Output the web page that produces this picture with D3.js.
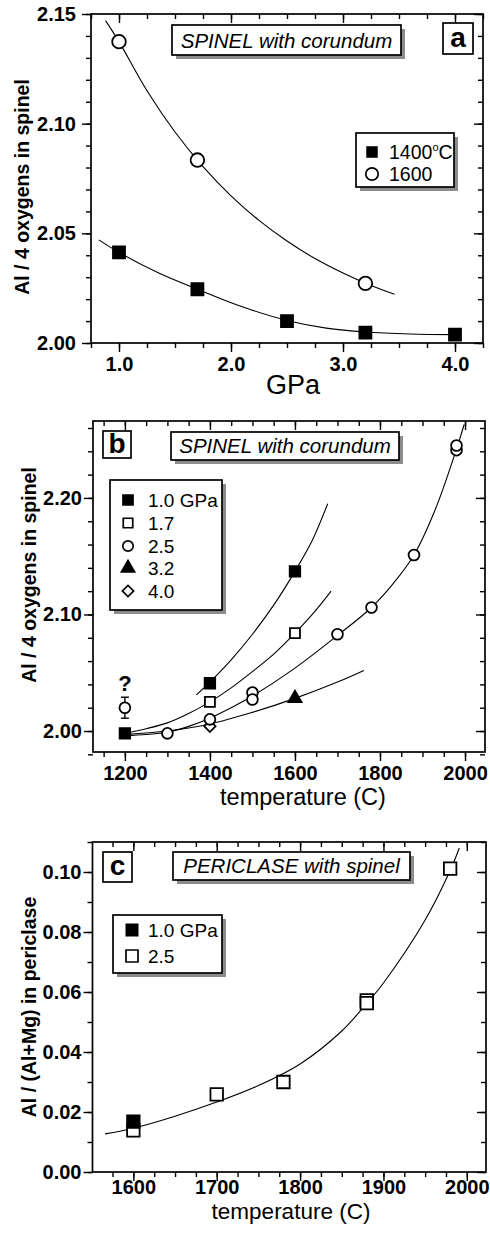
<!DOCTYPE html>
<html>
<head>
<meta charset="utf-8">
<script src="https://cdn.jsdelivr.net/npm/d3@7"></script>
<style>
  body { margin: 0; background: #fff; }
  svg { display: block; }
</style>
</head>
<body>
<svg id="fig" width="490" height="1234"></svg>
<script>
// ---------- Panel a: Al / 4 oxygens in spinel vs pressure ----------
const pressureTicks = [1.0, 2.0, 3.0, 4.0];
const spinelTicksA = [2.00, 2.05, 2.10, 2.15];

const p1400 = [1.0, 1.7, 2.5, 3.2, 4.0];
const al1400 = [2.0413, 2.0245, 2.0100, 2.0047, 2.0038];
const p1600 = [1.0, 1.7, 3.2];
const al1600 = [2.1374, 2.0834, 2.0272];

const fit1400P = [0.82, 1.0, 1.35, 1.7, 2.1, 2.5, 2.85, 3.2, 3.6, 4.0];
const fit1400A = [2.0470, 2.0413, 2.0320, 2.0245, 2.0165, 2.0103, 2.0068, 2.0050, 2.0041, 2.0038];
const fit1600P = [0.88, 1.0, 1.25, 1.5, 1.75, 2.0, 2.25, 2.5, 2.75, 3.0, 3.25, 3.46];
const fit1600A = [2.1470, 2.1374, 2.1150, 2.0962, 2.0804, 2.0671, 2.0559, 2.0465, 2.0385, 2.0319, 2.0262, 2.0222];

// ---------- Panel b: Al / 4 oxygens in spinel vs temperature ----------
const tempTicksB = [1200, 1400, 1600, 1800, 2000];
const spinelTicksB = [2.00, 2.10, 2.20];

const t10 = [1200, 1400, 1600];
const a10 = [1.998, 2.041, 2.137];
const t17 = [1400, 1600];
const a17 = [2.025, 2.084];
const t25 = [1300, 1400, 1500, 1500, 1700, 1780, 1880, 1980, 1980];
const a25 = [1.998, 2.010, 2.033, 2.027, 2.083, 2.106, 2.151, 2.241, 2.245];
const t25q = [1200];
const a25q = [2.020];
const e25q = [0.009];
const t32 = [1600];
const a32 = [2.028];
const t40 = [1400];
const a40 = [2.004];

const fit10T = [1368, 1400, 1450, 1500, 1550, 1600, 1640, 1677];
const fit10A = [2.031, 2.042, 2.061, 2.083, 2.108, 2.137, 2.163, 2.195];
const fit17T = [1200, 1250, 1300, 1350, 1400, 1450, 1500, 1550, 1600, 1650, 1685];
const fit17A = [1.998, 2.002, 2.007, 2.015, 2.025, 2.037, 2.051, 2.066, 2.084, 2.104, 2.120];
const fit25T = [1200, 1250, 1300, 1350, 1400, 1450, 1500, 1600, 1700, 1780, 1830, 1880, 1930, 1980, 1998];
const fit25A = [1.996, 1.997, 1.999, 2.004, 2.011, 2.020, 2.030, 2.054, 2.082, 2.106, 2.126, 2.151, 2.190, 2.242, 2.263];
const fit32T = [1200, 1300, 1400, 1500, 1600, 1700, 1762];
const fit32A = [1.997, 2.000, 2.006, 2.016, 2.028, 2.042, 2.052];

// ---------- Panel c: Al / (Al+Mg) in periclase vs temperature ----------
const tempTicksC = [1600, 1700, 1800, 1900, 2000];
const periTicksC = [0.00, 0.02, 0.04, 0.06, 0.08, 0.10];

const tc10 = [1600];
const pc10 = [0.0168];
const tc25 = [1600, 1700, 1780, 1880, 1880, 1980];
const pc25 = [0.0139, 0.0259, 0.0300, 0.0572, 0.0563, 0.1011];

const fitCT = [1566, 1600, 1650, 1700, 1750, 1800, 1850, 1880, 1900, 1950, 1980, 1991];
const fitCA = [0.0127, 0.0146, 0.0186, 0.0233, 0.0288, 0.0360, 0.0470, 0.0562, 0.0630, 0.0840, 0.1005, 0.1080];

// ---------- drawing helpers ----------
const FONT = '"Liberation Sans", Arial, Helvetica, sans-serif';
const TICK_FONT = 20;
const svg = d3.select('#fig');

function addAxis(g, ax, tx, ty, fontSize) {
  const a = g.append('g')
    .attr('transform', `translate(${tx},${ty})`)
    .call(ax.tickSizeOuter(0));
  a.select('.domain').remove();
  a.selectAll('line').attr('stroke', '#000').attr('stroke-width', 1.4);
  a.attr('font-family', FONT).attr('font-size', fontSize || 10).attr('font-weight', 'bold');
  a.selectAll('text').attr('fill', '#000');
  return a;
}

function panel(cfg) {
  const g = svg.append('g');
  const x = d3.scaleLinear().domain(cfg.xDomain).range(cfg.xRange);
  const y = d3.scaleLinear().domain(cfg.yDomain).range(cfg.yRange);
  const [xl, xr] = cfg.xRange;
  const [yb, yt] = cfg.yRange;
  const none = () => '';

  // minor ticks on all four sides
  addAxis(g, d3.axisBottom(x).tickValues(cfg.xMinor).tickSize(5).tickFormat(none), 0, yb);
  addAxis(g, d3.axisTop(x).tickValues(cfg.xMinor).tickSize(-5).tickFormat(none), 0, yt);
  addAxis(g, d3.axisLeft(y).tickValues(cfg.yMinor).tickSize(5).tickFormat(none), xl, 0);
  addAxis(g, d3.axisRight(y).tickValues(cfg.yMinor).tickSize(-5).tickFormat(none), xr, 0);
  // major ticks with labels on bottom / left
  addAxis(g, d3.axisBottom(x).tickValues(cfg.xMajor).tickSize(9).tickPadding(cfg.xPad).tickFormat(cfg.xFmt), 0, yb, TICK_FONT);
  addAxis(g, d3.axisTop(x).tickValues(cfg.xMajor).tickSize(-9).tickFormat(none), 0, yt);
  addAxis(g, d3.axisLeft(y).tickValues(cfg.yMajor).tickSize(9).tickPadding(cfg.yPad).tickFormat(cfg.yFmt), xl, 0, TICK_FONT);
  addAxis(g, d3.axisRight(y).tickValues(cfg.yMajor).tickSize(-9).tickFormat(none), xr, 0);

  g.append('rect')
    .attr('x', xl).attr('y', yt)
    .attr('width', xr - xl).attr('height', yb - yt)
    .attr('fill', 'none').attr('stroke', '#000').attr('stroke-width', 1.7);

  // axis titles
  g.append('text')
    .attr('transform', `translate(${cfg.yTitlePos[0]},${cfg.yTitlePos[1]}) rotate(-90)`)
    .attr('text-anchor', 'middle')
    .attr('font-family', FONT).attr('font-size', 19.5).attr('font-weight', 'bold')
    .text(cfg.yTitle);
  g.append('text')
    .attr('x', cfg.xTitlePos[0]).attr('y', cfg.xTitlePos[1])
    .attr('text-anchor', 'middle')
    .attr('font-family', FONT).attr('font-size', cfg.xTitleSize)
    .text(cfg.xTitle);
  return { g, x, y };
}

function fitLine(p, xs, ys) {
  const pts = xs.map((v, i) => [v, ys[i]]);
  p.g.append('path')
    .datum(pts)
    .attr('fill', 'none').attr('stroke', '#000').attr('stroke-width', 1.1)
    .attr('d', d3.line().x(d => p.x(d[0])).y(d => p.y(d[1])).curve(d3.curveCatmullRom.alpha(0.5)));
}

function marks(p, xs, ys, type, size, filled, rot) {
  const pts = xs.map((v, i) => [v, ys[i]]);
  p.g.append('g').selectAll('path').data(pts).join('path')
    .attr('transform', d => `translate(${p.x(d[0])},${p.y(d[1])}) rotate(${rot || 0})`)
    .attr('d', d3.symbol().type(type).size(size))
    .attr('fill', filled ? '#000' : '#fff')
    .attr('stroke', '#000').attr('stroke-width', 1.8);
}

function box(g, x, y, w, h, shadow) {
  if (shadow) {
    g.append('rect').attr('x', x + 4).attr('y', y + 4).attr('width', w).attr('height', h)
      .attr('fill', '#8c8c8c');
  }
  g.append('rect').attr('x', x).attr('y', y).attr('width', w).attr('height', h)
    .attr('fill', '#fff').attr('stroke', '#000').attr('stroke-width', 1.7);
}

function label(g, x, y, txt, size, opts) {
  const t = g.append('text').attr('x', x).attr('y', y)
    .attr('font-family', FONT).attr('font-size', size)
    .attr('text-anchor', (opts && opts.anchor) || 'start');
  if (opts && opts.italic) t.attr('font-style', 'italic');
  if (opts && opts.bold) t.attr('font-weight', 'bold');
  t.text(txt);
  return t;
}

const sq = s => s * s;
const circ = r => Math.PI * r * r;
const f1 = d3.format('.1f'), f2 = d3.format('.2f');

// ---------- panel a ----------
const pa = panel({
  xDomain: [0.75, 4.25], xRange: [91, 483],
  yDomain: [2.00, 2.15], yRange: [343, 14],
  xMajor: pressureTicks, xMinor: d3.range(0.75, 4.26, 0.25), xFmt: f1, xPad: 5,
  yMajor: spinelTicksA, yMinor: d3.range(2.00, 2.1501, 0.01), yFmt: f2, yPad: 6,
  yTitle: 'Al / 4 oxygens in spinel', yTitlePos: [29, 187],
  xTitle: 'GPa', xTitlePos: [293, 394], xTitleSize: 27
});
fitLine(pa, fit1600P, fit1600A);
fitLine(pa, fit1400P, fit1400A);
marks(pa, p1400, al1400, d3.symbolSquare, sq(12), true);
marks(pa, p1600, al1600, d3.symbolCircle, circ(6.8), false);

box(pa.g, 172, 25, 229, 30, true);
label(pa.g, 286.5, 47.5, 'SPINEL with corundum', 20.5, { anchor: 'middle', italic: true });
box(pa.g, 443, 23, 30, 31, false);
label(pa.g, 458, 46.5, 'a', 28, { anchor: 'middle', bold: true });

box(pa.g, 356, 133, 98, 54, true);
pa.g.append('path').attr('transform', 'translate(372,152)')
  .attr('d', d3.symbol().type(d3.symbolSquare).size(sq(11.5))).attr('fill', '#000');
const deg = label(pa.g, 389, 159, '1400', 19.5);
deg.append('tspan').attr('font-size', 11).attr('dy', -8).text('o');
deg.append('tspan').attr('dy', 8).text('C');
pa.g.append('path').attr('transform', 'translate(372,174)')
  .attr('d', d3.symbol().type(d3.symbolCircle).size(circ(6.2))).attr('fill', '#fff')
  .attr('stroke', '#000').attr('stroke-width', 1.7);
label(pa.g, 389, 181, '1600', 19.5);

// ---------- panel b ----------
const pb = panel({
  xDomain: [1125, 2047], xRange: [93, 485],
  yDomain: [1.982, 2.266], yRange: [752, 421],
  xMajor: tempTicksB, xMinor: d3.range(1150, 2047, 50), xFmt: d3.format('d'), xPad: 5,
  yMajor: spinelTicksB, yMinor: d3.range(1.98, 2.2601, 0.02), yFmt: f2, yPad: 2,
  yTitle: 'Al / 4 oxygens in spinel', yTitlePos: [36, 575],
  xTitle: 'temperature (C)', xTitlePos: [303, 805], xTitleSize: 23.5
});
fitLine(pb, fit10T, fit10A);
fitLine(pb, fit17T, fit17A);
fitLine(pb, fit25T, fit25A);
fitLine(pb, fit32T, fit32A);

// questionable 2.5 GPa run at 1200 C with its error bar
t25q.forEach((t, i) => {
  const xx = pb.x(t), lo = pb.y(a25q[i] - e25q[i]), hi = pb.y(a25q[i] + e25q[i]);
  pb.g.append('line').attr('x1', xx).attr('x2', xx).attr('y1', lo).attr('y2', hi)
    .attr('stroke', '#000').attr('stroke-width', 1.4);
  [lo, hi].forEach(yy => pb.g.append('line').attr('x1', xx - 4).attr('x2', xx + 4)
    .attr('y1', yy).attr('y2', yy).attr('stroke', '#000').attr('stroke-width', 1.4));
  label(pb.g, xx, hi - 6, '?', 22, { anchor: 'middle', bold: true });
});
marks(pb, t25q, a25q, d3.symbolCircle, circ(5.4), false);
marks(pb, t40, a40, d3.symbolSquare, sq(8), false, 45);
marks(pb, t25, a25, d3.symbolCircle, circ(5.4), false);
marks(pb, t17, a17, d3.symbolSquare, sq(10), false);
marks(pb, t32, a32, d3.symbolTriangle, 75, true);
marks(pb, t10, a10, d3.symbolSquare, sq(10.5), true);

box(pb.g, 171, 432, 228, 28, true);
label(pb.g, 285, 453, 'SPINEL with corundum', 20.5, { anchor: 'middle', italic: true });
box(pb.g, 103, 431, 28, 27, false);
label(pb.g, 117, 453, 'b', 28, { anchor: 'middle', bold: true });

box(pb.g, 110, 480, 112, 130, true);
const legB = [
  { type: d3.symbolSquare, size: sq(10), fill: true, rot: 0, text: '1.0 GPa' },
  { type: d3.symbolSquare, size: sq(9.5), fill: false, rot: 0, text: '1.7' },
  { type: d3.symbolCircle, size: circ(5.2), fill: false, rot: 0, text: '2.5' },
  { type: d3.symbolTriangle, size: 75, fill: true, rot: 0, text: '3.2' },
  { type: d3.symbolSquare, size: sq(8), fill: false, rot: 45, text: '4.0' }
];
const legBY = [500, 523, 546, 568, 591];
legB.forEach((d, i) => {
  pb.g.append('path').attr('transform', `translate(128,${legBY[i]}) rotate(${d.rot})`)
    .attr('d', d3.symbol().type(d.type).size(d.size))
    .attr('fill', d.fill ? '#000' : '#fff').attr('stroke', '#000').attr('stroke-width', 1.7);
  label(pb.g, 148, legBY[i] + 7, d.text, 19);
});

// ---------- panel c ----------
const pc = panel({
  xDomain: [1551, 2023], xRange: [92.5, 486],
  yDomain: [0, 0.11], yRange: [1172, 842],
  xMajor: tempTicksC, xMinor: d3.range(1575, 2024, 25), xFmt: d3.format('d'), xPad: -1.5,
  yMajor: periTicksC, yMinor: d3.range(0, 0.1101, 0.01), yFmt: f2, yPad: 2,
  yTitle: 'Al / (Al+Mg) in periclase', yTitlePos: [36, 1007],
  xTitle: 'temperature (C)', xTitlePos: [291, 1219], xTitleSize: 22.5
});
fitLine(pc, fitCT, fitCA);
marks(pc, tc25, pc25, d3.symbolSquare, sq(12.5), false);
marks(pc, tc10, pc10, d3.symbolSquare, sq(12.5), true);

box(pc.g, 173, 852, 237, 28, true);
label(pc.g, 291.5, 873, 'PERICLASE with spinel', 20.5, { anchor: 'middle', italic: true });
box(pc.g, 103, 852, 29, 30, false);
label(pc.g, 117.5, 875, 'c', 28, { anchor: 'middle', bold: true });

box(pc.g, 113, 915, 109, 58, true);
pc.g.append('path').attr('transform', 'translate(132,930)')
  .attr('d', d3.symbol().type(d3.symbolSquare).size(sq(13))).attr('fill', '#000');
label(pc.g, 148, 937, '1.0 GPa', 19);
pc.g.append('path').attr('transform', 'translate(132,956)')
  .attr('d', d3.symbol().type(d3.symbolSquare).size(sq(12))).attr('fill', '#fff')
  .attr('stroke', '#000').attr('stroke-width', 1.7);
label(pc.g, 148, 963, '2.5', 19);
</script>
</body>
</html>
